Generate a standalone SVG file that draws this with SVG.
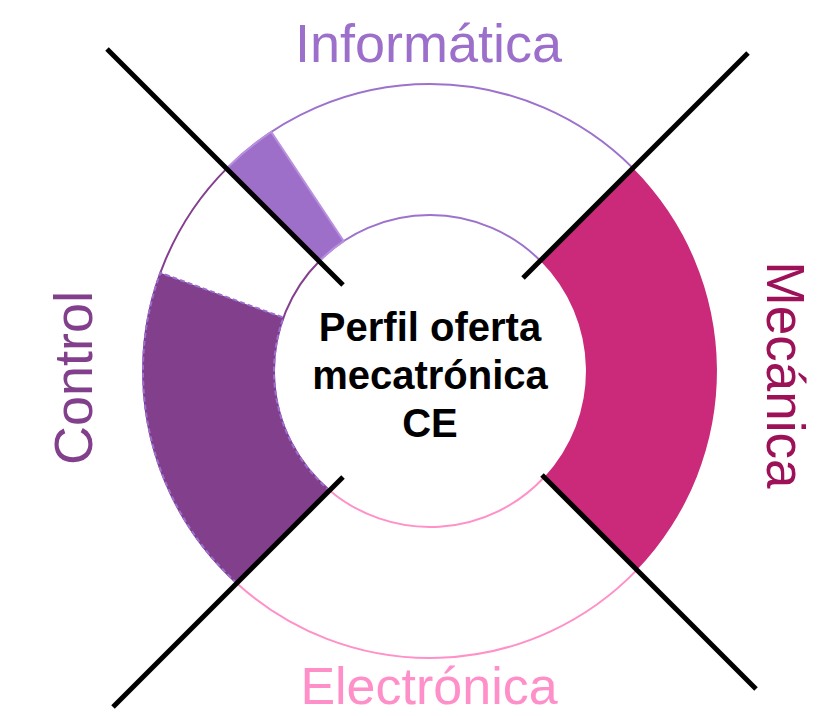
<svg xmlns="http://www.w3.org/2000/svg" width="835" height="716" viewBox="0 0 835 716">
<style>
.lbl{font-family:"Liberation Sans",Arial,sans-serif;text-anchor:middle}
.ctr{font-family:"Liberation Sans",Arial,sans-serif;font-weight:bold;font-size:40px;text-anchor:middle;fill:#000}
.div{stroke:#000;stroke-width:5;fill:none}
</style>
<rect width="835" height="716" fill="#fff"/>
<g id="informatica">
<path d="M227.1,168.1 A287,287 0 0 1 632.9,168.1 L540.3,260.7 A156,156 0 0 0 319.7,260.7 Z" fill="#fff" stroke="#9d72cc" stroke-width="2"/>
<path d="M227.1,168.1 A287,287 0 0 1 271.2,132.0 L343.7,241.1 A156,156 0 0 0 319.7,260.7 Z" fill="#9d6fc8" stroke="#b98fe0" stroke-width="2"/>
<text class="lbl" x="428.5" y="62" font-size="54" fill="#9c6fcb">Informática</text>
</g>
<g id="mecanica">
<path d="M632.9,168.1 A287,287 0 0 1 636.9,569.9 L544.2,477.2 A156,156 0 0 0 540.3,260.7 Z" fill="#cb2a7b"/>
<text class="lbl" transform="translate(767,375) rotate(90)" font-size="53" fill="#9c1158">Mecánica</text>
</g>
<g id="electronica">
<path d="M636.9,569.9 A287,287 0 0 1 236.8,583.2 L329.6,490.4 A156,156 0 0 0 544.2,477.2 Z" fill="#fff" stroke="#ff90c8" stroke-width="2"/>
<text class="lbl" x="429" y="704" font-size="52" fill="#ff8fc8">Electrónica</text>
</g>
<g id="control">
<path d="M236.8,583.2 A287,287 0 0 1 227.1,168.1 L319.7,260.7 A156,156 0 0 0 329.6,490.4 Z" fill="#fff" stroke="#843f8f" stroke-width="2"/>
<path d="M236.8,583.2 A287,287 0 0 1 160.3,272.8 L283.4,317.6 A156,156 0 0 0 329.6,490.4 Z" fill="#823f8c" stroke="#9b6fd0" stroke-width="2" stroke-dasharray="5 3"/>
<text class="lbl" transform="translate(92,378) rotate(-90)" font-size="54" fill="#823f8c">Control</text>
</g>
<g id="connectors">
<line class="div" x1="107" y1="49" x2="343" y2="285"/>
<line class="div" x1="748" y1="53" x2="523" y2="278"/>
<line class="div" x1="343" y1="477" x2="113" y2="707"/>
<line class="div" x1="542" y1="475" x2="756" y2="689"/>
</g>
<g id="centro">
<text class="ctr" x="430" y="341">Perfil oferta</text>
<text class="ctr" x="430" y="389">mecatrónica</text>
<text class="ctr" x="430" y="437">CE</text>
</g>
</svg>
